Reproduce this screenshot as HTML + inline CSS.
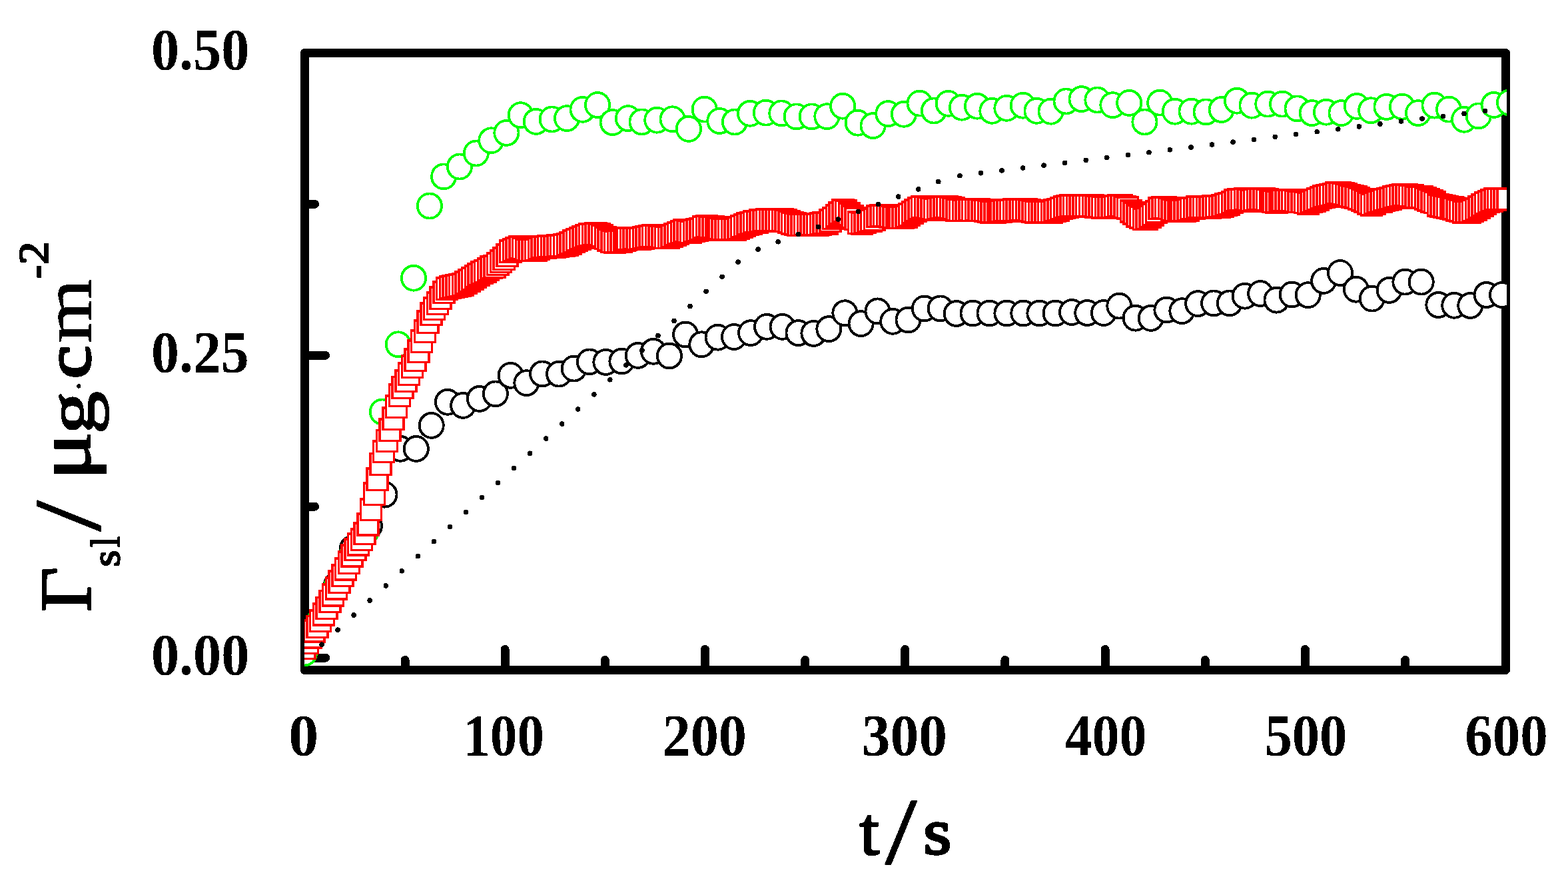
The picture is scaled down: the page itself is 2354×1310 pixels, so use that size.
<!DOCTYPE html>
<html lang="en"><head><meta charset="utf-8"><title>Surface loading vs time</title>
<style>html,body{margin:0;padding:0;background:#fff;overflow:hidden;}svg{display:block;}text{font-family:"Liberation Serif", "DejaVu Serif", serif;fill:#000;}</style></head><body>
<svg width="2354" height="1310" viewBox="0 0 2354 1310" shape-rendering="crispEdges">
<rect x="0" y="0" width="2354" height="1310" fill="#fff"/>
<defs><clipPath id="plot"><rect x="457" y="60" width="1805" height="940.3"/></clipPath><filter id="bw" filterUnits="userSpaceOnUse" x="0" y="0" width="2354" height="1310" color-interpolation-filters="sRGB"><feComponentTransfer><feFuncA type="discrete" tableValues="0 1"/></feComponentTransfer></filter></defs>
<g fill="none" stroke="#000" stroke-width="13" stroke-linecap="round" stroke-linejoin="round">
<rect x="457.5" y="79.5" width="1803.0" height="926.0"/>
<line x1="608.05" y1="1005.5" x2="608.05" y2="990.5"/>
<line x1="758.20" y1="1005.5" x2="758.20" y2="974.5"/>
<line x1="908.35" y1="1005.5" x2="908.35" y2="990.5"/>
<line x1="1058.50" y1="1005.5" x2="1058.50" y2="974.5"/>
<line x1="1208.65" y1="1005.5" x2="1208.65" y2="990.5"/>
<line x1="1358.80" y1="1005.5" x2="1358.80" y2="974.5"/>
<line x1="1508.95" y1="1005.5" x2="1508.95" y2="990.5"/>
<line x1="1659.10" y1="1005.5" x2="1659.10" y2="974.5"/>
<line x1="1809.25" y1="1005.5" x2="1809.25" y2="990.5"/>
<line x1="1959.40" y1="1005.5" x2="1959.40" y2="974.5"/>
<line x1="2109.55" y1="1005.5" x2="2109.55" y2="990.5"/>
<line x1="457.5" y1="987.00" x2="488.5" y2="987.00"/>
<line x1="457.5" y1="760.12" x2="472.5" y2="760.12"/>
<line x1="457.5" y1="533.25" x2="488.5" y2="533.25"/>
<line x1="457.5" y1="306.38" x2="472.5" y2="306.38"/>
</g>
<g clip-path="url(#plot)">
<g fill="#fff" stroke="#000" stroke-width="3.9">
<ellipse cx="457.0" cy="980.0" rx="18.05" ry="18.45"/>
<ellipse cx="481.0" cy="930.0" rx="18.05" ry="18.45"/>
<ellipse cx="505.0" cy="878.0" rx="18.05" ry="18.45"/>
<ellipse cx="529.0" cy="823.0" rx="18.05" ry="18.45"/>
<ellipse cx="554.9" cy="789.0" rx="18.05" ry="18.45"/>
<ellipse cx="577.5" cy="742.2" rx="18.05" ry="18.45"/>
<ellipse cx="600.9" cy="673.3" rx="18.05" ry="18.45"/>
<ellipse cx="624.8" cy="673.4" rx="18.05" ry="18.45"/>
<ellipse cx="647.7" cy="638.4" rx="18.05" ry="18.45"/>
<ellipse cx="671.9" cy="603.3" rx="18.05" ry="18.45"/>
<ellipse cx="695.2" cy="608.4" rx="18.05" ry="18.45"/>
<ellipse cx="719.9" cy="598.4" rx="18.05" ry="18.45"/>
<ellipse cx="743.9" cy="590.9" rx="18.05" ry="18.45"/>
<ellipse cx="766.6" cy="563.3" rx="18.05" ry="18.45"/>
<ellipse cx="790.4" cy="574.7" rx="18.05" ry="18.45"/>
<ellipse cx="814.2" cy="560.9" rx="18.05" ry="18.45"/>
<ellipse cx="839.1" cy="561.1" rx="18.05" ry="18.45"/>
<ellipse cx="861.7" cy="553.1" rx="18.05" ry="18.45"/>
<ellipse cx="884.9" cy="542.9" rx="18.05" ry="18.45"/>
<ellipse cx="909.4" cy="543.4" rx="18.05" ry="18.45"/>
<ellipse cx="933.4" cy="542.0" rx="18.05" ry="18.45"/>
<ellipse cx="957.8" cy="533.4" rx="18.05" ry="18.45"/>
<ellipse cx="980.9" cy="527.3" rx="18.05" ry="18.45"/>
<ellipse cx="1004.9" cy="534.0" rx="18.05" ry="18.45"/>
<ellipse cx="1029.1" cy="502.0" rx="18.05" ry="18.45"/>
<ellipse cx="1053.3" cy="516.8" rx="18.05" ry="18.45"/>
<ellipse cx="1077.6" cy="506.2" rx="18.05" ry="18.45"/>
<ellipse cx="1102.0" cy="505.5" rx="18.05" ry="18.45"/>
<ellipse cx="1127.1" cy="499.6" rx="18.05" ry="18.45"/>
<ellipse cx="1151.1" cy="490.4" rx="18.05" ry="18.45"/>
<ellipse cx="1174.6" cy="490.4" rx="18.05" ry="18.45"/>
<ellipse cx="1198.5" cy="499.6" rx="18.05" ry="18.45"/>
<ellipse cx="1221.4" cy="500.4" rx="18.05" ry="18.45"/>
<ellipse cx="1244.4" cy="493.6" rx="18.05" ry="18.45"/>
<ellipse cx="1268.4" cy="469.8" rx="18.05" ry="18.45"/>
<ellipse cx="1292.6" cy="485.6" rx="18.05" ry="18.45"/>
<ellipse cx="1317.5" cy="466.9" rx="18.05" ry="18.45"/>
<ellipse cx="1340.3" cy="482.3" rx="18.05" ry="18.45"/>
<ellipse cx="1363.5" cy="480.0" rx="18.05" ry="18.45"/>
<ellipse cx="1387.8" cy="463.0" rx="18.05" ry="18.45"/>
<ellipse cx="1411.7" cy="462.9" rx="18.05" ry="18.45"/>
<ellipse cx="1435.7" cy="470.5" rx="18.05" ry="18.45"/>
<ellipse cx="1460.5" cy="470.0" rx="18.05" ry="18.45"/>
<ellipse cx="1485.5" cy="470.0" rx="18.05" ry="18.45"/>
<ellipse cx="1511.4" cy="470.0" rx="18.05" ry="18.45"/>
<ellipse cx="1536.3" cy="470.0" rx="18.05" ry="18.45"/>
<ellipse cx="1560.4" cy="470.0" rx="18.05" ry="18.45"/>
<ellipse cx="1584.6" cy="470.0" rx="18.05" ry="18.45"/>
<ellipse cx="1609.1" cy="468.5" rx="18.05" ry="18.45"/>
<ellipse cx="1632.3" cy="469.5" rx="18.05" ry="18.45"/>
<ellipse cx="1656.9" cy="469.5" rx="18.05" ry="18.45"/>
<ellipse cx="1680.3" cy="459.1" rx="18.05" ry="18.45"/>
<ellipse cx="1704.6" cy="477.2" rx="18.05" ry="18.45"/>
<ellipse cx="1727.7" cy="477.4" rx="18.05" ry="18.45"/>
<ellipse cx="1751.4" cy="465.0" rx="18.05" ry="18.45"/>
<ellipse cx="1774.4" cy="466.7" rx="18.05" ry="18.45"/>
<ellipse cx="1798.2" cy="455.6" rx="18.05" ry="18.45"/>
<ellipse cx="1822.2" cy="454.9" rx="18.05" ry="18.45"/>
<ellipse cx="1845.9" cy="454.9" rx="18.05" ry="18.45"/>
<ellipse cx="1868.7" cy="444.2" rx="18.05" ry="18.45"/>
<ellipse cx="1892.2" cy="440.5" rx="18.05" ry="18.45"/>
<ellipse cx="1916.5" cy="450.2" rx="18.05" ry="18.45"/>
<ellipse cx="1939.7" cy="442.0" rx="18.05" ry="18.45"/>
<ellipse cx="1963.7" cy="442.7" rx="18.05" ry="18.45"/>
<ellipse cx="1987.2" cy="421.4" rx="18.05" ry="18.45"/>
<ellipse cx="2012.0" cy="409.5" rx="18.05" ry="18.45"/>
<ellipse cx="2035.9" cy="434.2" rx="18.05" ry="18.45"/>
<ellipse cx="2059.8" cy="448.1" rx="18.05" ry="18.45"/>
<ellipse cx="2085.6" cy="435.4" rx="18.05" ry="18.45"/>
<ellipse cx="2109.4" cy="423.1" rx="18.05" ry="18.45"/>
<ellipse cx="2133.7" cy="423.1" rx="18.05" ry="18.45"/>
<ellipse cx="2159.4" cy="457.5" rx="18.05" ry="18.45"/>
<ellipse cx="2183.3" cy="458.3" rx="18.05" ry="18.45"/>
<ellipse cx="2207.3" cy="458.5" rx="18.05" ry="18.45"/>
<ellipse cx="2231.6" cy="442.5" rx="18.05" ry="18.45"/>
<ellipse cx="2255.1" cy="442.5" rx="18.05" ry="18.45"/>
</g>
<g fill="#fff" stroke="#0f0" stroke-width="3.8">
<ellipse cx="457.0" cy="980.0" rx="18.1" ry="18.5"/>
<ellipse cx="480.5" cy="931.0" rx="18.1" ry="18.5"/>
<ellipse cx="504.0" cy="883.0" rx="18.1" ry="18.5"/>
<ellipse cx="527.5" cy="835.0" rx="18.1" ry="18.5"/>
<ellipse cx="550.5" cy="796.5" rx="18.1" ry="18.5"/>
<ellipse cx="573.9" cy="618.0" rx="18.1" ry="18.5"/>
<ellipse cx="597.8" cy="516.8" rx="18.1" ry="18.5"/>
<ellipse cx="621.0" cy="417.2" rx="18.1" ry="18.5"/>
<ellipse cx="644.9" cy="309.0" rx="18.1" ry="18.5"/>
<ellipse cx="666.1" cy="264.9" rx="18.1" ry="18.5"/>
<ellipse cx="690.0" cy="250.0" rx="18.1" ry="18.5"/>
<ellipse cx="714.8" cy="230.0" rx="18.1" ry="18.5"/>
<ellipse cx="737.4" cy="210.8" rx="18.1" ry="18.5"/>
<ellipse cx="760.4" cy="199.4" rx="18.1" ry="18.5"/>
<ellipse cx="781.7" cy="172.7" rx="18.1" ry="18.5"/>
<ellipse cx="804.7" cy="182.4" rx="18.1" ry="18.5"/>
<ellipse cx="828.7" cy="179.0" rx="18.1" ry="18.5"/>
<ellipse cx="851.1" cy="177.6" rx="18.1" ry="18.5"/>
<ellipse cx="874.6" cy="164.3" rx="18.1" ry="18.5"/>
<ellipse cx="897.1" cy="157.5" rx="18.1" ry="18.5"/>
<ellipse cx="919.7" cy="183.6" rx="18.1" ry="18.5"/>
<ellipse cx="942.9" cy="177.6" rx="18.1" ry="18.5"/>
<ellipse cx="963.5" cy="182.9" rx="18.1" ry="18.5"/>
<ellipse cx="986.3" cy="180.2" rx="18.1" ry="18.5"/>
<ellipse cx="1009.6" cy="178.8" rx="18.1" ry="18.5"/>
<ellipse cx="1033.9" cy="193.4" rx="18.1" ry="18.5"/>
<ellipse cx="1057.7" cy="164.1" rx="18.1" ry="18.5"/>
<ellipse cx="1080.3" cy="181.5" rx="18.1" ry="18.5"/>
<ellipse cx="1103.0" cy="183.0" rx="18.1" ry="18.5"/>
<ellipse cx="1126.0" cy="170.3" rx="18.1" ry="18.5"/>
<ellipse cx="1149.8" cy="169.1" rx="18.1" ry="18.5"/>
<ellipse cx="1173.3" cy="169.9" rx="18.1" ry="18.5"/>
<ellipse cx="1195.7" cy="174.9" rx="18.1" ry="18.5"/>
<ellipse cx="1218.7" cy="174.9" rx="18.1" ry="18.5"/>
<ellipse cx="1241.4" cy="174.7" rx="18.1" ry="18.5"/>
<ellipse cx="1265.2" cy="159.2" rx="18.1" ry="18.5"/>
<ellipse cx="1287.7" cy="184.2" rx="18.1" ry="18.5"/>
<ellipse cx="1310.6" cy="188.6" rx="18.1" ry="18.5"/>
<ellipse cx="1333.3" cy="170.6" rx="18.1" ry="18.5"/>
<ellipse cx="1356.9" cy="171.3" rx="18.1" ry="18.5"/>
<ellipse cx="1380.6" cy="155.1" rx="18.1" ry="18.5"/>
<ellipse cx="1402.0" cy="166.0" rx="18.1" ry="18.5"/>
<ellipse cx="1423.7" cy="155.3" rx="18.1" ry="18.5"/>
<ellipse cx="1444.0" cy="161.2" rx="18.1" ry="18.5"/>
<ellipse cx="1467.0" cy="159.2" rx="18.1" ry="18.5"/>
<ellipse cx="1489.4" cy="166.3" rx="18.1" ry="18.5"/>
<ellipse cx="1511.4" cy="162.3" rx="18.1" ry="18.5"/>
<ellipse cx="1535.7" cy="158.2" rx="18.1" ry="18.5"/>
<ellipse cx="1556.5" cy="166.3" rx="18.1" ry="18.5"/>
<ellipse cx="1577.6" cy="167.2" rx="18.1" ry="18.5"/>
<ellipse cx="1600.6" cy="152.0" rx="18.1" ry="18.5"/>
<ellipse cx="1623.6" cy="148.6" rx="18.1" ry="18.5"/>
<ellipse cx="1647.4" cy="150.0" rx="18.1" ry="18.5"/>
<ellipse cx="1670.4" cy="157.7" rx="18.1" ry="18.5"/>
<ellipse cx="1695.2" cy="154.4" rx="18.1" ry="18.5"/>
<ellipse cx="1718.4" cy="183.0" rx="18.1" ry="18.5"/>
<ellipse cx="1741.2" cy="154.1" rx="18.1" ry="18.5"/>
<ellipse cx="1763.8" cy="167.2" rx="18.1" ry="18.5"/>
<ellipse cx="1788.6" cy="167.2" rx="18.1" ry="18.5"/>
<ellipse cx="1810.6" cy="167.9" rx="18.1" ry="18.5"/>
<ellipse cx="1833.7" cy="164.5" rx="18.1" ry="18.5"/>
<ellipse cx="1857.0" cy="151.2" rx="18.1" ry="18.5"/>
<ellipse cx="1879.5" cy="158.2" rx="18.1" ry="18.5"/>
<ellipse cx="1903.3" cy="156.1" rx="18.1" ry="18.5"/>
<ellipse cx="1925.1" cy="156.1" rx="18.1" ry="18.5"/>
<ellipse cx="1947.6" cy="162.9" rx="18.1" ry="18.5"/>
<ellipse cx="1969.7" cy="169.6" rx="18.1" ry="18.5"/>
<ellipse cx="1991.0" cy="168.2" rx="18.1" ry="18.5"/>
<ellipse cx="2013.6" cy="169.6" rx="18.1" ry="18.5"/>
<ellipse cx="2036.9" cy="159.4" rx="18.1" ry="18.5"/>
<ellipse cx="2058.2" cy="165.7" rx="18.1" ry="18.5"/>
<ellipse cx="2081.5" cy="160.4" rx="18.1" ry="18.5"/>
<ellipse cx="2105.0" cy="160.1" rx="18.1" ry="18.5"/>
<ellipse cx="2129.0" cy="169.6" rx="18.1" ry="18.5"/>
<ellipse cx="2153.5" cy="158.1" rx="18.1" ry="18.5"/>
<ellipse cx="2175.1" cy="164.1" rx="18.1" ry="18.5"/>
<ellipse cx="2198.1" cy="179.3" rx="18.1" ry="18.5"/>
<ellipse cx="2219.7" cy="173.9" rx="18.1" ry="18.5"/>
<ellipse cx="2242.7" cy="157.4" rx="18.1" ry="18.5"/>
<ellipse cx="2266.0" cy="153.9" rx="18.1" ry="18.5"/>
</g>
<g>
<rect x="440.00" y="954.45" width="34.6" height="35.7" fill="#f00"/><rect x="443.50" y="958.35" width="27.6" height="28.5" fill="#fff"/>
<rect x="444.75" y="946.75" width="34.6" height="35.7" fill="#f00"/><rect x="448.25" y="950.65" width="27.6" height="28.5" fill="#fff"/>
<rect x="449.51" y="937.85" width="34.6" height="35.7" fill="#f00"/><rect x="453.01" y="941.75" width="27.6" height="28.5" fill="#fff"/>
<rect x="454.26" y="928.95" width="34.6" height="35.7" fill="#f00"/><rect x="457.76" y="932.85" width="27.6" height="28.5" fill="#fff"/>
<rect x="459.01" y="922.55" width="34.6" height="35.7" fill="#f00"/><rect x="462.51" y="926.45" width="27.6" height="28.5" fill="#fff"/>
<rect x="463.76" y="913.65" width="34.6" height="35.7" fill="#f00"/><rect x="467.26" y="917.55" width="27.6" height="28.5" fill="#fff"/>
<rect x="468.52" y="903.95" width="34.6" height="35.7" fill="#f00"/><rect x="472.02" y="907.85" width="27.6" height="28.5" fill="#fff"/>
<rect x="473.27" y="894.55" width="34.6" height="35.7" fill="#f00"/><rect x="476.77" y="898.45" width="27.6" height="28.5" fill="#fff"/>
<rect x="478.02" y="884.55" width="34.6" height="35.7" fill="#f00"/><rect x="481.52" y="888.45" width="27.6" height="28.5" fill="#fff"/>
<rect x="482.78" y="874.85" width="34.6" height="35.7" fill="#f00"/><rect x="486.28" y="878.75" width="27.6" height="28.5" fill="#fff"/>
<rect x="487.53" y="865.05" width="34.6" height="35.7" fill="#f00"/><rect x="491.03" y="868.95" width="27.6" height="28.5" fill="#fff"/>
<rect x="492.28" y="855.45" width="34.6" height="35.7" fill="#f00"/><rect x="495.78" y="859.35" width="27.6" height="28.5" fill="#fff"/>
<rect x="497.04" y="845.65" width="34.6" height="35.7" fill="#f00"/><rect x="500.54" y="849.55" width="27.6" height="28.5" fill="#fff"/>
<rect x="501.79" y="835.95" width="34.6" height="35.7" fill="#f00"/><rect x="505.29" y="839.85" width="27.6" height="28.5" fill="#fff"/>
<rect x="506.54" y="826.15" width="34.6" height="35.7" fill="#f00"/><rect x="510.04" y="830.05" width="27.6" height="28.5" fill="#fff"/>
<rect x="511.30" y="815.95" width="34.6" height="35.7" fill="#f00"/><rect x="514.80" y="819.85" width="27.6" height="28.5" fill="#fff"/>
<rect x="516.05" y="806.75" width="34.6" height="35.7" fill="#f00"/><rect x="519.55" y="810.65" width="27.6" height="28.5" fill="#fff"/>
<rect x="520.80" y="798.95" width="34.6" height="35.7" fill="#f00"/><rect x="524.30" y="802.85" width="27.6" height="28.5" fill="#fff"/>
<rect x="525.55" y="791.65" width="34.6" height="35.7" fill="#f00"/><rect x="529.05" y="795.55" width="27.6" height="28.5" fill="#fff"/>
<rect x="530.31" y="782.75" width="34.6" height="35.7" fill="#f00"/><rect x="533.81" y="786.65" width="27.6" height="28.5" fill="#fff"/>
<rect x="535.06" y="768.85" width="34.6" height="35.7" fill="#f00"/><rect x="538.56" y="772.75" width="27.6" height="28.5" fill="#fff"/>
<rect x="539.81" y="746.75" width="34.6" height="35.7" fill="#f00"/><rect x="543.31" y="750.65" width="27.6" height="28.5" fill="#fff"/>
<rect x="544.57" y="723.15" width="34.6" height="35.7" fill="#f00"/><rect x="548.07" y="727.05" width="27.6" height="28.5" fill="#fff"/>
<rect x="549.32" y="701.15" width="34.6" height="35.7" fill="#f00"/><rect x="552.82" y="705.05" width="27.6" height="28.5" fill="#fff"/>
<rect x="554.07" y="678.55" width="34.6" height="35.7" fill="#f00"/><rect x="557.57" y="682.45" width="27.6" height="28.5" fill="#fff"/>
<rect x="558.83" y="659.65" width="34.6" height="35.7" fill="#f00"/><rect x="562.33" y="663.55" width="27.6" height="28.5" fill="#fff"/>
<rect x="563.58" y="643.55" width="34.6" height="35.7" fill="#f00"/><rect x="567.08" y="647.45" width="27.6" height="28.5" fill="#fff"/>
<rect x="568.33" y="627.35" width="34.6" height="35.7" fill="#f00"/><rect x="571.83" y="631.25" width="27.6" height="28.5" fill="#fff"/>
<rect x="573.08" y="610.15" width="34.6" height="35.7" fill="#f00"/><rect x="576.58" y="614.05" width="27.6" height="28.5" fill="#fff"/>
<rect x="577.84" y="592.45" width="34.6" height="35.7" fill="#f00"/><rect x="581.34" y="596.35" width="27.6" height="28.5" fill="#fff"/>
<rect x="582.59" y="575.45" width="34.6" height="35.7" fill="#f00"/><rect x="586.09" y="579.35" width="27.6" height="28.5" fill="#fff"/>
<rect x="587.34" y="563.55" width="34.6" height="35.7" fill="#f00"/><rect x="590.84" y="567.45" width="27.6" height="28.5" fill="#fff"/>
<rect x="592.10" y="553.65" width="34.6" height="35.7" fill="#f00"/><rect x="595.60" y="557.55" width="27.6" height="28.5" fill="#fff"/>
<rect x="596.85" y="543.45" width="34.6" height="35.7" fill="#f00"/><rect x="600.35" y="547.35" width="27.6" height="28.5" fill="#fff"/>
<rect x="601.60" y="532.35" width="34.6" height="35.7" fill="#f00"/><rect x="605.10" y="536.25" width="27.6" height="28.5" fill="#fff"/>
<rect x="606.36" y="522.45" width="34.6" height="35.7" fill="#f00"/><rect x="609.86" y="526.35" width="27.6" height="28.5" fill="#fff"/>
<rect x="611.11" y="509.15" width="34.6" height="35.7" fill="#f00"/><rect x="614.61" y="513.05" width="27.6" height="28.5" fill="#fff"/>
<rect x="615.86" y="494.25" width="34.6" height="35.7" fill="#f00"/><rect x="619.36" y="498.15" width="27.6" height="28.5" fill="#fff"/>
<rect x="620.61" y="479.45" width="34.6" height="35.7" fill="#f00"/><rect x="624.11" y="483.35" width="27.6" height="28.5" fill="#fff"/>
<rect x="625.37" y="465.45" width="34.6" height="35.7" fill="#f00"/><rect x="628.87" y="469.35" width="27.6" height="28.5" fill="#fff"/>
<rect x="630.12" y="453.35" width="34.6" height="35.7" fill="#f00"/><rect x="633.62" y="457.25" width="27.6" height="28.5" fill="#fff"/>
<rect x="634.87" y="445.35" width="34.6" height="35.7" fill="#f00"/><rect x="638.37" y="449.25" width="27.6" height="28.5" fill="#fff"/>
<rect x="639.63" y="437.25" width="34.6" height="35.7" fill="#f00"/><rect x="643.13" y="441.15" width="27.6" height="28.5" fill="#fff"/>
<rect x="644.38" y="429.35" width="34.6" height="35.7" fill="#f00"/><rect x="647.88" y="433.25" width="27.6" height="28.5" fill="#fff"/>
<rect x="649.13" y="420.65" width="34.6" height="35.7" fill="#f00"/><rect x="652.63" y="424.55" width="27.6" height="28.5" fill="#fff"/>
<rect x="653.88" y="415.25" width="34.6" height="35.7" fill="#f00"/><rect x="657.38" y="419.15" width="27.6" height="28.5" fill="#fff"/>
<rect x="658.64" y="413.45" width="34.6" height="35.7" fill="#f00"/><rect x="662.14" y="417.35" width="27.6" height="28.5" fill="#fff"/>
<rect x="663.39" y="412.25" width="34.6" height="35.7" fill="#f00"/><rect x="666.89" y="416.15" width="27.6" height="28.5" fill="#fff"/>
<rect x="668.14" y="411.25" width="34.6" height="35.7" fill="#f00"/><rect x="671.64" y="415.15" width="27.6" height="28.5" fill="#fff"/>
<rect x="672.90" y="410.15" width="34.6" height="35.7" fill="#f00"/><rect x="676.40" y="414.05" width="27.6" height="28.5" fill="#fff"/>
<rect x="677.65" y="409.35" width="34.6" height="35.7" fill="#f00"/><rect x="681.15" y="413.25" width="27.6" height="28.5" fill="#fff"/>
<rect x="682.40" y="406.45" width="34.6" height="35.7" fill="#f00"/><rect x="685.90" y="410.35" width="27.6" height="28.5" fill="#fff"/>
<rect x="687.16" y="403.45" width="34.6" height="35.7" fill="#f00"/><rect x="690.66" y="407.35" width="27.6" height="28.5" fill="#fff"/>
<rect x="691.91" y="400.15" width="34.6" height="35.7" fill="#f00"/><rect x="695.41" y="404.05" width="27.6" height="28.5" fill="#fff"/>
<rect x="696.66" y="397.05" width="34.6" height="35.7" fill="#f00"/><rect x="700.16" y="400.95" width="27.6" height="28.5" fill="#fff"/>
<rect x="701.42" y="394.05" width="34.6" height="35.7" fill="#f00"/><rect x="704.92" y="397.95" width="27.6" height="28.5" fill="#fff"/>
<rect x="706.17" y="391.15" width="34.6" height="35.7" fill="#f00"/><rect x="709.67" y="395.05" width="27.6" height="28.5" fill="#fff"/>
<rect x="710.92" y="389.15" width="34.6" height="35.7" fill="#f00"/><rect x="714.42" y="393.05" width="27.6" height="28.5" fill="#fff"/>
<rect x="715.67" y="386.45" width="34.6" height="35.7" fill="#f00"/><rect x="719.17" y="390.35" width="27.6" height="28.5" fill="#fff"/>
<rect x="720.43" y="383.25" width="34.6" height="35.7" fill="#f00"/><rect x="723.93" y="387.15" width="27.6" height="28.5" fill="#fff"/>
<rect x="725.18" y="382.25" width="34.6" height="35.7" fill="#f00"/><rect x="728.68" y="386.15" width="27.6" height="28.5" fill="#fff"/>
<rect x="729.93" y="378.15" width="34.6" height="35.7" fill="#f00"/><rect x="733.43" y="382.05" width="27.6" height="28.5" fill="#fff"/>
<rect x="734.69" y="374.35" width="34.6" height="35.7" fill="#f00"/><rect x="738.19" y="378.25" width="27.6" height="28.5" fill="#fff"/>
<rect x="739.44" y="370.25" width="34.6" height="35.7" fill="#f00"/><rect x="742.94" y="374.15" width="27.6" height="28.5" fill="#fff"/>
<rect x="744.19" y="365.45" width="34.6" height="35.7" fill="#f00"/><rect x="747.69" y="369.35" width="27.6" height="28.5" fill="#fff"/>
<rect x="748.95" y="359.25" width="34.6" height="35.7" fill="#f00"/><rect x="752.45" y="363.15" width="27.6" height="28.5" fill="#fff"/>
<rect x="753.70" y="357.15" width="34.6" height="35.7" fill="#f00"/><rect x="757.20" y="361.05" width="27.6" height="28.5" fill="#fff"/>
<rect x="758.45" y="355.25" width="34.6" height="35.7" fill="#f00"/><rect x="761.95" y="359.15" width="27.6" height="28.5" fill="#fff"/>
<rect x="763.20" y="353.25" width="34.6" height="35.7" fill="#f00"/><rect x="766.70" y="357.15" width="27.6" height="28.5" fill="#fff"/>
<rect x="767.96" y="354.85" width="34.6" height="35.7" fill="#f00"/><rect x="771.46" y="358.75" width="27.6" height="28.5" fill="#fff"/>
<rect x="772.71" y="356.85" width="34.6" height="35.7" fill="#f00"/><rect x="776.21" y="360.75" width="27.6" height="28.5" fill="#fff"/>
<rect x="777.46" y="357.15" width="34.6" height="35.7" fill="#f00"/><rect x="780.96" y="361.05" width="27.6" height="28.5" fill="#fff"/>
<rect x="782.22" y="357.15" width="34.6" height="35.7" fill="#f00"/><rect x="785.72" y="361.05" width="27.6" height="28.5" fill="#fff"/>
<rect x="786.97" y="356.85" width="34.6" height="35.7" fill="#f00"/><rect x="790.47" y="360.75" width="27.6" height="28.5" fill="#fff"/>
<rect x="791.72" y="354.85" width="34.6" height="35.7" fill="#f00"/><rect x="795.22" y="358.75" width="27.6" height="28.5" fill="#fff"/>
<rect x="796.48" y="353.05" width="34.6" height="35.7" fill="#f00"/><rect x="799.98" y="356.95" width="27.6" height="28.5" fill="#fff"/>
<rect x="801.23" y="353.05" width="34.6" height="35.7" fill="#f00"/><rect x="804.73" y="356.95" width="27.6" height="28.5" fill="#fff"/>
<rect x="805.98" y="352.05" width="34.6" height="35.7" fill="#f00"/><rect x="809.48" y="355.95" width="27.6" height="28.5" fill="#fff"/>
<rect x="810.73" y="352.05" width="34.6" height="35.7" fill="#f00"/><rect x="814.23" y="355.95" width="27.6" height="28.5" fill="#fff"/>
<rect x="815.49" y="352.05" width="34.6" height="35.7" fill="#f00"/><rect x="818.99" y="355.95" width="27.6" height="28.5" fill="#fff"/>
<rect x="820.24" y="351.05" width="34.6" height="35.7" fill="#f00"/><rect x="823.74" y="354.95" width="27.6" height="28.5" fill="#fff"/>
<rect x="824.99" y="350.75" width="34.6" height="35.7" fill="#f00"/><rect x="828.49" y="354.65" width="27.6" height="28.5" fill="#fff"/>
<rect x="829.75" y="350.15" width="34.6" height="35.7" fill="#f00"/><rect x="833.25" y="354.05" width="27.6" height="28.5" fill="#fff"/>
<rect x="834.50" y="348.85" width="34.6" height="35.7" fill="#f00"/><rect x="838.00" y="352.75" width="27.6" height="28.5" fill="#fff"/>
<rect x="839.25" y="346.95" width="34.6" height="35.7" fill="#f00"/><rect x="842.75" y="350.85" width="27.6" height="28.5" fill="#fff"/>
<rect x="844.01" y="344.15" width="34.6" height="35.7" fill="#f00"/><rect x="847.51" y="348.05" width="27.6" height="28.5" fill="#fff"/>
<rect x="848.76" y="341.85" width="34.6" height="35.7" fill="#f00"/><rect x="852.26" y="345.75" width="27.6" height="28.5" fill="#fff"/>
<rect x="853.51" y="339.95" width="34.6" height="35.7" fill="#f00"/><rect x="857.01" y="343.85" width="27.6" height="28.5" fill="#fff"/>
<rect x="858.26" y="337.95" width="34.6" height="35.7" fill="#f00"/><rect x="861.76" y="341.85" width="27.6" height="28.5" fill="#fff"/>
<rect x="863.02" y="336.05" width="34.6" height="35.7" fill="#f00"/><rect x="866.52" y="339.95" width="27.6" height="28.5" fill="#fff"/>
<rect x="867.77" y="334.15" width="34.6" height="35.7" fill="#f00"/><rect x="871.27" y="338.05" width="27.6" height="28.5" fill="#fff"/>
<rect x="872.52" y="333.75" width="34.6" height="35.7" fill="#f00"/><rect x="876.02" y="337.65" width="27.6" height="28.5" fill="#fff"/>
<rect x="877.28" y="333.15" width="34.6" height="35.7" fill="#f00"/><rect x="880.78" y="337.05" width="27.6" height="28.5" fill="#fff"/>
<rect x="882.03" y="333.75" width="34.6" height="35.7" fill="#f00"/><rect x="885.53" y="337.65" width="27.6" height="28.5" fill="#fff"/>
<rect x="886.78" y="336.05" width="34.6" height="35.7" fill="#f00"/><rect x="890.28" y="339.95" width="27.6" height="28.5" fill="#fff"/>
<rect x="891.54" y="339.25" width="34.6" height="35.7" fill="#f00"/><rect x="895.04" y="343.15" width="27.6" height="28.5" fill="#fff"/>
<rect x="896.29" y="342.05" width="34.6" height="35.7" fill="#f00"/><rect x="899.79" y="345.95" width="27.6" height="28.5" fill="#fff"/>
<rect x="901.04" y="344.15" width="34.6" height="35.7" fill="#f00"/><rect x="904.54" y="348.05" width="27.6" height="28.5" fill="#fff"/>
<rect x="905.79" y="345.05" width="34.6" height="35.7" fill="#f00"/><rect x="909.29" y="348.95" width="27.6" height="28.5" fill="#fff"/>
<rect x="910.55" y="344.15" width="34.6" height="35.7" fill="#f00"/><rect x="914.05" y="348.05" width="27.6" height="28.5" fill="#fff"/>
<rect x="915.30" y="344.15" width="34.6" height="35.7" fill="#f00"/><rect x="918.80" y="348.05" width="27.6" height="28.5" fill="#fff"/>
<rect x="920.05" y="342.15" width="34.6" height="35.7" fill="#f00"/><rect x="923.55" y="346.05" width="27.6" height="28.5" fill="#fff"/>
<rect x="922.43" y="341.15" width="34.6" height="35.7" fill="#f00"/><rect x="925.93" y="345.05" width="27.6" height="28.5" fill="#fff"/>
<rect x="924.81" y="340.15" width="34.6" height="35.7" fill="#f00"/><rect x="928.31" y="344.05" width="27.6" height="28.5" fill="#fff"/>
<rect x="929.56" y="340.15" width="34.6" height="35.7" fill="#f00"/><rect x="933.06" y="344.05" width="27.6" height="28.5" fill="#fff"/>
<rect x="934.31" y="339.95" width="34.6" height="35.7" fill="#f00"/><rect x="937.81" y="343.85" width="27.6" height="28.5" fill="#fff"/>
<rect x="939.07" y="340.15" width="34.6" height="35.7" fill="#f00"/><rect x="942.57" y="344.05" width="27.6" height="28.5" fill="#fff"/>
<rect x="943.82" y="339.95" width="34.6" height="35.7" fill="#f00"/><rect x="947.32" y="343.85" width="27.6" height="28.5" fill="#fff"/>
<rect x="948.57" y="339.05" width="34.6" height="35.7" fill="#f00"/><rect x="952.07" y="342.95" width="27.6" height="28.5" fill="#fff"/>
<rect x="953.32" y="337.95" width="34.6" height="35.7" fill="#f00"/><rect x="956.82" y="341.85" width="27.6" height="28.5" fill="#fff"/>
<rect x="958.08" y="337.05" width="34.6" height="35.7" fill="#f00"/><rect x="961.58" y="340.95" width="27.6" height="28.5" fill="#fff"/>
<rect x="962.83" y="336.15" width="34.6" height="35.7" fill="#f00"/><rect x="966.33" y="340.05" width="27.6" height="28.5" fill="#fff"/>
<rect x="967.58" y="336.15" width="34.6" height="35.7" fill="#f00"/><rect x="971.08" y="340.05" width="27.6" height="28.5" fill="#fff"/>
<rect x="972.34" y="336.95" width="34.6" height="35.7" fill="#f00"/><rect x="975.84" y="340.85" width="27.6" height="28.5" fill="#fff"/>
<rect x="977.09" y="337.15" width="34.6" height="35.7" fill="#f00"/><rect x="980.59" y="341.05" width="27.6" height="28.5" fill="#fff"/>
<rect x="981.84" y="338.15" width="34.6" height="35.7" fill="#f00"/><rect x="985.34" y="342.05" width="27.6" height="28.5" fill="#fff"/>
<rect x="986.60" y="338.15" width="34.6" height="35.7" fill="#f00"/><rect x="990.10" y="342.05" width="27.6" height="28.5" fill="#fff"/>
<rect x="991.35" y="336.15" width="34.6" height="35.7" fill="#f00"/><rect x="994.85" y="340.05" width="27.6" height="28.5" fill="#fff"/>
<rect x="996.10" y="333.95" width="34.6" height="35.7" fill="#f00"/><rect x="999.60" y="337.85" width="27.6" height="28.5" fill="#fff"/>
<rect x="1000.85" y="332.05" width="34.6" height="35.7" fill="#f00"/><rect x="1004.35" y="335.95" width="27.6" height="28.5" fill="#fff"/>
<rect x="1005.61" y="330.15" width="34.6" height="35.7" fill="#f00"/><rect x="1009.11" y="334.05" width="27.6" height="28.5" fill="#fff"/>
<rect x="1010.36" y="328.15" width="34.6" height="35.7" fill="#f00"/><rect x="1013.86" y="332.05" width="27.6" height="28.5" fill="#fff"/>
<rect x="1015.11" y="329.25" width="34.6" height="35.7" fill="#f00"/><rect x="1018.61" y="333.15" width="27.6" height="28.5" fill="#fff"/>
<rect x="1019.87" y="330.15" width="34.6" height="35.7" fill="#f00"/><rect x="1023.37" y="334.05" width="27.6" height="28.5" fill="#fff"/>
<rect x="1024.62" y="328.15" width="34.6" height="35.7" fill="#f00"/><rect x="1028.12" y="332.05" width="27.6" height="28.5" fill="#fff"/>
<rect x="1029.37" y="327.15" width="34.6" height="35.7" fill="#f00"/><rect x="1032.87" y="331.05" width="27.6" height="28.5" fill="#fff"/>
<rect x="1034.12" y="326.05" width="34.6" height="35.7" fill="#f00"/><rect x="1037.62" y="329.95" width="27.6" height="28.5" fill="#fff"/>
<rect x="1038.88" y="323.05" width="34.6" height="35.7" fill="#f00"/><rect x="1042.38" y="326.95" width="27.6" height="28.5" fill="#fff"/>
<rect x="1043.63" y="322.05" width="34.6" height="35.7" fill="#f00"/><rect x="1047.13" y="325.95" width="27.6" height="28.5" fill="#fff"/>
<rect x="1048.38" y="323.05" width="34.6" height="35.7" fill="#f00"/><rect x="1051.88" y="326.95" width="27.6" height="28.5" fill="#fff"/>
<rect x="1053.14" y="323.05" width="34.6" height="35.7" fill="#f00"/><rect x="1056.64" y="326.95" width="27.6" height="28.5" fill="#fff"/>
<rect x="1057.89" y="323.95" width="34.6" height="35.7" fill="#f00"/><rect x="1061.39" y="327.85" width="27.6" height="28.5" fill="#fff"/>
<rect x="1060.27" y="324.50" width="34.6" height="35.7" fill="#f00"/><rect x="1063.77" y="328.40" width="27.6" height="28.5" fill="#fff"/>
<rect x="1062.64" y="325.05" width="34.6" height="35.7" fill="#f00"/><rect x="1066.14" y="328.95" width="27.6" height="28.5" fill="#fff"/>
<rect x="1067.40" y="326.05" width="34.6" height="35.7" fill="#f00"/><rect x="1070.90" y="329.95" width="27.6" height="28.5" fill="#fff"/>
<rect x="1072.15" y="326.05" width="34.6" height="35.7" fill="#f00"/><rect x="1075.65" y="329.95" width="27.6" height="28.5" fill="#fff"/>
<rect x="1076.90" y="326.05" width="34.6" height="35.7" fill="#f00"/><rect x="1080.40" y="329.95" width="27.6" height="28.5" fill="#fff"/>
<rect x="1081.65" y="326.05" width="34.6" height="35.7" fill="#f00"/><rect x="1085.15" y="329.95" width="27.6" height="28.5" fill="#fff"/>
<rect x="1086.41" y="326.05" width="34.6" height="35.7" fill="#f00"/><rect x="1089.91" y="329.95" width="27.6" height="28.5" fill="#fff"/>
<rect x="1091.16" y="324.15" width="34.6" height="35.7" fill="#f00"/><rect x="1094.66" y="328.05" width="27.6" height="28.5" fill="#fff"/>
<rect x="1095.91" y="322.05" width="34.6" height="35.7" fill="#f00"/><rect x="1099.41" y="325.95" width="27.6" height="28.5" fill="#fff"/>
<rect x="1100.67" y="320.15" width="34.6" height="35.7" fill="#f00"/><rect x="1104.17" y="324.05" width="27.6" height="28.5" fill="#fff"/>
<rect x="1105.42" y="317.95" width="34.6" height="35.7" fill="#f00"/><rect x="1108.92" y="321.85" width="27.6" height="28.5" fill="#fff"/>
<rect x="1110.17" y="316.95" width="34.6" height="35.7" fill="#f00"/><rect x="1113.67" y="320.85" width="27.6" height="28.5" fill="#fff"/>
<rect x="1114.93" y="315.05" width="34.6" height="35.7" fill="#f00"/><rect x="1118.43" y="318.95" width="27.6" height="28.5" fill="#fff"/>
<rect x="1119.68" y="314.85" width="34.6" height="35.7" fill="#f00"/><rect x="1123.18" y="318.75" width="27.6" height="28.5" fill="#fff"/>
<rect x="1124.43" y="313.15" width="34.6" height="35.7" fill="#f00"/><rect x="1127.93" y="317.05" width="27.6" height="28.5" fill="#fff"/>
<rect x="1129.19" y="312.85" width="34.6" height="35.7" fill="#f00"/><rect x="1132.69" y="316.75" width="27.6" height="28.5" fill="#fff"/>
<rect x="1133.94" y="312.25" width="34.6" height="35.7" fill="#f00"/><rect x="1137.44" y="316.15" width="27.6" height="28.5" fill="#fff"/>
<rect x="1138.69" y="312.25" width="34.6" height="35.7" fill="#f00"/><rect x="1142.19" y="316.15" width="27.6" height="28.5" fill="#fff"/>
<rect x="1143.44" y="312.25" width="34.6" height="35.7" fill="#f00"/><rect x="1146.94" y="316.15" width="27.6" height="28.5" fill="#fff"/>
<rect x="1148.20" y="312.25" width="34.6" height="35.7" fill="#f00"/><rect x="1151.70" y="316.15" width="27.6" height="28.5" fill="#fff"/>
<rect x="1152.95" y="312.25" width="34.6" height="35.7" fill="#f00"/><rect x="1156.45" y="316.15" width="27.6" height="28.5" fill="#fff"/>
<rect x="1157.70" y="312.25" width="34.6" height="35.7" fill="#f00"/><rect x="1161.20" y="316.15" width="27.6" height="28.5" fill="#fff"/>
<rect x="1162.46" y="313.15" width="34.6" height="35.7" fill="#f00"/><rect x="1165.96" y="317.05" width="27.6" height="28.5" fill="#fff"/>
<rect x="1167.21" y="315.05" width="34.6" height="35.7" fill="#f00"/><rect x="1170.71" y="318.95" width="27.6" height="28.5" fill="#fff"/>
<rect x="1171.96" y="316.95" width="34.6" height="35.7" fill="#f00"/><rect x="1175.46" y="320.85" width="27.6" height="28.5" fill="#fff"/>
<rect x="1176.72" y="317.95" width="34.6" height="35.7" fill="#f00"/><rect x="1180.22" y="321.85" width="27.6" height="28.5" fill="#fff"/>
<rect x="1181.47" y="319.25" width="34.6" height="35.7" fill="#f00"/><rect x="1184.97" y="323.15" width="27.6" height="28.5" fill="#fff"/>
<rect x="1186.22" y="319.25" width="34.6" height="35.7" fill="#f00"/><rect x="1189.72" y="323.15" width="27.6" height="28.5" fill="#fff"/>
<rect x="1190.97" y="319.25" width="34.6" height="35.7" fill="#f00"/><rect x="1194.47" y="323.15" width="27.6" height="28.5" fill="#fff"/>
<rect x="1195.73" y="319.25" width="34.6" height="35.7" fill="#f00"/><rect x="1199.23" y="323.15" width="27.6" height="28.5" fill="#fff"/>
<rect x="1200.48" y="319.05" width="34.6" height="35.7" fill="#f00"/><rect x="1203.98" y="322.95" width="27.6" height="28.5" fill="#fff"/>
<rect x="1205.23" y="319.05" width="34.6" height="35.7" fill="#f00"/><rect x="1208.73" y="322.95" width="27.6" height="28.5" fill="#fff"/>
<rect x="1209.99" y="319.05" width="34.6" height="35.7" fill="#f00"/><rect x="1213.49" y="322.95" width="27.6" height="28.5" fill="#fff"/>
<rect x="1214.74" y="317.95" width="34.6" height="35.7" fill="#f00"/><rect x="1218.24" y="321.85" width="27.6" height="28.5" fill="#fff"/>
<rect x="1219.49" y="316.95" width="34.6" height="35.7" fill="#f00"/><rect x="1222.99" y="320.85" width="27.6" height="28.5" fill="#fff"/>
<rect x="1224.25" y="316.95" width="34.6" height="35.7" fill="#f00"/><rect x="1227.75" y="320.85" width="27.6" height="28.5" fill="#fff"/>
<rect x="1229.00" y="313.15" width="34.6" height="35.7" fill="#f00"/><rect x="1232.50" y="317.05" width="27.6" height="28.5" fill="#fff"/>
<rect x="1233.75" y="309.75" width="34.6" height="35.7" fill="#f00"/><rect x="1237.25" y="313.65" width="27.6" height="28.5" fill="#fff"/>
<rect x="1238.50" y="305.85" width="34.6" height="35.7" fill="#f00"/><rect x="1242.00" y="309.75" width="27.6" height="28.5" fill="#fff"/>
<rect x="1243.26" y="301.85" width="34.6" height="35.7" fill="#f00"/><rect x="1246.76" y="305.75" width="27.6" height="28.5" fill="#fff"/>
<rect x="1248.01" y="298.15" width="34.6" height="35.7" fill="#f00"/><rect x="1251.51" y="302.05" width="27.6" height="28.5" fill="#fff"/>
<rect x="1252.76" y="299.05" width="34.6" height="35.7" fill="#f00"/><rect x="1256.26" y="302.95" width="27.6" height="28.5" fill="#fff"/>
<rect x="1257.52" y="303.25" width="34.6" height="35.7" fill="#f00"/><rect x="1261.02" y="307.15" width="27.6" height="28.5" fill="#fff"/>
<rect x="1262.27" y="307.35" width="34.6" height="35.7" fill="#f00"/><rect x="1265.77" y="311.25" width="27.6" height="28.5" fill="#fff"/>
<rect x="1267.02" y="310.15" width="34.6" height="35.7" fill="#f00"/><rect x="1270.52" y="314.05" width="27.6" height="28.5" fill="#fff"/>
<rect x="1271.78" y="316.25" width="34.6" height="35.7" fill="#f00"/><rect x="1275.28" y="320.15" width="27.6" height="28.5" fill="#fff"/>
<rect x="1276.53" y="316.85" width="34.6" height="35.7" fill="#f00"/><rect x="1280.03" y="320.75" width="27.6" height="28.5" fill="#fff"/>
<rect x="1281.28" y="315.65" width="34.6" height="35.7" fill="#f00"/><rect x="1284.78" y="319.55" width="27.6" height="28.5" fill="#fff"/>
<rect x="1286.03" y="313.65" width="34.6" height="35.7" fill="#f00"/><rect x="1289.53" y="317.55" width="27.6" height="28.5" fill="#fff"/>
<rect x="1290.79" y="313.05" width="34.6" height="35.7" fill="#f00"/><rect x="1294.29" y="316.95" width="27.6" height="28.5" fill="#fff"/>
<rect x="1295.54" y="311.15" width="34.6" height="35.7" fill="#f00"/><rect x="1299.04" y="315.05" width="27.6" height="28.5" fill="#fff"/>
<rect x="1300.29" y="306.65" width="34.6" height="35.7" fill="#f00"/><rect x="1303.79" y="310.55" width="27.6" height="28.5" fill="#fff"/>
<rect x="1305.05" y="306.05" width="34.6" height="35.7" fill="#f00"/><rect x="1308.55" y="309.95" width="27.6" height="28.5" fill="#fff"/>
<rect x="1309.80" y="306.05" width="34.6" height="35.7" fill="#f00"/><rect x="1313.30" y="309.95" width="27.6" height="28.5" fill="#fff"/>
<rect x="1314.55" y="306.05" width="34.6" height="35.7" fill="#f00"/><rect x="1318.05" y="309.95" width="27.6" height="28.5" fill="#fff"/>
<rect x="1319.31" y="306.95" width="34.6" height="35.7" fill="#f00"/><rect x="1322.81" y="310.85" width="27.6" height="28.5" fill="#fff"/>
<rect x="1324.06" y="307.95" width="34.6" height="35.7" fill="#f00"/><rect x="1327.56" y="311.85" width="27.6" height="28.5" fill="#fff"/>
<rect x="1328.81" y="308.15" width="34.6" height="35.7" fill="#f00"/><rect x="1332.31" y="312.05" width="27.6" height="28.5" fill="#fff"/>
<rect x="1331.19" y="308.20" width="34.6" height="35.7" fill="#f00"/><rect x="1334.69" y="312.10" width="27.6" height="28.5" fill="#fff"/>
<rect x="1333.56" y="308.25" width="34.6" height="35.7" fill="#f00"/><rect x="1337.06" y="312.15" width="27.6" height="28.5" fill="#fff"/>
<rect x="1338.32" y="308.25" width="34.6" height="35.7" fill="#f00"/><rect x="1341.82" y="312.15" width="27.6" height="28.5" fill="#fff"/>
<rect x="1343.07" y="306.95" width="34.6" height="35.7" fill="#f00"/><rect x="1346.57" y="310.85" width="27.6" height="28.5" fill="#fff"/>
<rect x="1347.82" y="304.15" width="34.6" height="35.7" fill="#f00"/><rect x="1351.32" y="308.05" width="27.6" height="28.5" fill="#fff"/>
<rect x="1352.58" y="300.95" width="34.6" height="35.7" fill="#f00"/><rect x="1356.08" y="304.85" width="27.6" height="28.5" fill="#fff"/>
<rect x="1357.33" y="298.05" width="34.6" height="35.7" fill="#f00"/><rect x="1360.83" y="301.95" width="27.6" height="28.5" fill="#fff"/>
<rect x="1362.08" y="294.85" width="34.6" height="35.7" fill="#f00"/><rect x="1365.58" y="298.75" width="27.6" height="28.5" fill="#fff"/>
<rect x="1366.84" y="292.95" width="34.6" height="35.7" fill="#f00"/><rect x="1370.34" y="296.85" width="27.6" height="28.5" fill="#fff"/>
<rect x="1371.59" y="292.95" width="34.6" height="35.7" fill="#f00"/><rect x="1375.09" y="296.85" width="27.6" height="28.5" fill="#fff"/>
<rect x="1376.34" y="293.95" width="34.6" height="35.7" fill="#f00"/><rect x="1379.84" y="297.85" width="27.6" height="28.5" fill="#fff"/>
<rect x="1381.09" y="294.85" width="34.6" height="35.7" fill="#f00"/><rect x="1384.59" y="298.75" width="27.6" height="28.5" fill="#fff"/>
<rect x="1385.85" y="295.85" width="34.6" height="35.7" fill="#f00"/><rect x="1389.35" y="299.75" width="27.6" height="28.5" fill="#fff"/>
<rect x="1390.60" y="294.85" width="34.6" height="35.7" fill="#f00"/><rect x="1394.10" y="298.75" width="27.6" height="28.5" fill="#fff"/>
<rect x="1395.35" y="293.95" width="34.6" height="35.7" fill="#f00"/><rect x="1398.85" y="297.85" width="27.6" height="28.5" fill="#fff"/>
<rect x="1400.11" y="292.95" width="34.6" height="35.7" fill="#f00"/><rect x="1403.61" y="296.85" width="27.6" height="28.5" fill="#fff"/>
<rect x="1404.86" y="292.95" width="34.6" height="35.7" fill="#f00"/><rect x="1408.36" y="296.85" width="27.6" height="28.5" fill="#fff"/>
<rect x="1409.61" y="293.95" width="34.6" height="35.7" fill="#f00"/><rect x="1413.11" y="297.85" width="27.6" height="28.5" fill="#fff"/>
<rect x="1414.37" y="294.85" width="34.6" height="35.7" fill="#f00"/><rect x="1417.87" y="298.75" width="27.6" height="28.5" fill="#fff"/>
<rect x="1419.12" y="296.85" width="34.6" height="35.7" fill="#f00"/><rect x="1422.62" y="300.75" width="27.6" height="28.5" fill="#fff"/>
<rect x="1423.87" y="297.15" width="34.6" height="35.7" fill="#f00"/><rect x="1427.37" y="301.05" width="27.6" height="28.5" fill="#fff"/>
<rect x="1428.62" y="297.75" width="34.6" height="35.7" fill="#f00"/><rect x="1432.12" y="301.65" width="27.6" height="28.5" fill="#fff"/>
<rect x="1433.38" y="297.15" width="34.6" height="35.7" fill="#f00"/><rect x="1436.88" y="301.05" width="27.6" height="28.5" fill="#fff"/>
<rect x="1438.13" y="296.85" width="34.6" height="35.7" fill="#f00"/><rect x="1441.63" y="300.75" width="27.6" height="28.5" fill="#fff"/>
<rect x="1442.88" y="297.15" width="34.6" height="35.7" fill="#f00"/><rect x="1446.38" y="301.05" width="27.6" height="28.5" fill="#fff"/>
<rect x="1447.64" y="296.85" width="34.6" height="35.7" fill="#f00"/><rect x="1451.14" y="300.75" width="27.6" height="28.5" fill="#fff"/>
<rect x="1452.39" y="297.15" width="34.6" height="35.7" fill="#f00"/><rect x="1455.89" y="301.05" width="27.6" height="28.5" fill="#fff"/>
<rect x="1457.14" y="297.75" width="34.6" height="35.7" fill="#f00"/><rect x="1460.64" y="301.65" width="27.6" height="28.5" fill="#fff"/>
<rect x="1461.89" y="298.05" width="34.6" height="35.7" fill="#f00"/><rect x="1465.39" y="301.95" width="27.6" height="28.5" fill="#fff"/>
<rect x="1466.65" y="299.05" width="34.6" height="35.7" fill="#f00"/><rect x="1470.15" y="302.95" width="27.6" height="28.5" fill="#fff"/>
<rect x="1471.40" y="300.05" width="34.6" height="35.7" fill="#f00"/><rect x="1474.90" y="303.95" width="27.6" height="28.5" fill="#fff"/>
<rect x="1476.15" y="300.05" width="34.6" height="35.7" fill="#f00"/><rect x="1479.65" y="303.95" width="27.6" height="28.5" fill="#fff"/>
<rect x="1480.91" y="299.55" width="34.6" height="35.7" fill="#f00"/><rect x="1484.41" y="303.45" width="27.6" height="28.5" fill="#fff"/>
<rect x="1483.28" y="299.30" width="34.6" height="35.7" fill="#f00"/><rect x="1486.78" y="303.20" width="27.6" height="28.5" fill="#fff"/>
<rect x="1485.66" y="299.05" width="34.6" height="35.7" fill="#f00"/><rect x="1489.16" y="302.95" width="27.6" height="28.5" fill="#fff"/>
<rect x="1490.41" y="298.05" width="34.6" height="35.7" fill="#f00"/><rect x="1493.91" y="301.95" width="27.6" height="28.5" fill="#fff"/>
<rect x="1495.17" y="297.75" width="34.6" height="35.7" fill="#f00"/><rect x="1498.67" y="301.65" width="27.6" height="28.5" fill="#fff"/>
<rect x="1499.92" y="298.05" width="34.6" height="35.7" fill="#f00"/><rect x="1503.42" y="301.95" width="27.6" height="28.5" fill="#fff"/>
<rect x="1504.67" y="297.15" width="34.6" height="35.7" fill="#f00"/><rect x="1508.17" y="301.05" width="27.6" height="28.5" fill="#fff"/>
<rect x="1509.42" y="297.15" width="34.6" height="35.7" fill="#f00"/><rect x="1512.92" y="301.05" width="27.6" height="28.5" fill="#fff"/>
<rect x="1514.18" y="296.85" width="34.6" height="35.7" fill="#f00"/><rect x="1517.68" y="300.75" width="27.6" height="28.5" fill="#fff"/>
<rect x="1518.93" y="296.95" width="34.6" height="35.7" fill="#f00"/><rect x="1522.43" y="300.85" width="27.6" height="28.5" fill="#fff"/>
<rect x="1523.68" y="297.05" width="34.6" height="35.7" fill="#f00"/><rect x="1527.18" y="300.95" width="27.6" height="28.5" fill="#fff"/>
<rect x="1528.44" y="297.95" width="34.6" height="35.7" fill="#f00"/><rect x="1531.94" y="301.85" width="27.6" height="28.5" fill="#fff"/>
<rect x="1533.19" y="298.95" width="34.6" height="35.7" fill="#f00"/><rect x="1536.69" y="302.85" width="27.6" height="28.5" fill="#fff"/>
<rect x="1537.94" y="299.85" width="34.6" height="35.7" fill="#f00"/><rect x="1541.44" y="303.75" width="27.6" height="28.5" fill="#fff"/>
<rect x="1542.70" y="299.85" width="34.6" height="35.7" fill="#f00"/><rect x="1546.20" y="303.75" width="27.6" height="28.5" fill="#fff"/>
<rect x="1547.45" y="299.85" width="34.6" height="35.7" fill="#f00"/><rect x="1550.95" y="303.75" width="27.6" height="28.5" fill="#fff"/>
<rect x="1552.20" y="299.85" width="34.6" height="35.7" fill="#f00"/><rect x="1555.70" y="303.75" width="27.6" height="28.5" fill="#fff"/>
<rect x="1556.95" y="299.85" width="34.6" height="35.7" fill="#f00"/><rect x="1560.45" y="303.75" width="27.6" height="28.5" fill="#fff"/>
<rect x="1561.71" y="299.85" width="34.6" height="35.7" fill="#f00"/><rect x="1565.21" y="303.75" width="27.6" height="28.5" fill="#fff"/>
<rect x="1566.46" y="297.95" width="34.6" height="35.7" fill="#f00"/><rect x="1569.96" y="301.85" width="27.6" height="28.5" fill="#fff"/>
<rect x="1571.21" y="296.95" width="34.6" height="35.7" fill="#f00"/><rect x="1574.71" y="300.85" width="27.6" height="28.5" fill="#fff"/>
<rect x="1575.97" y="294.75" width="34.6" height="35.7" fill="#f00"/><rect x="1579.47" y="298.65" width="27.6" height="28.5" fill="#fff"/>
<rect x="1580.72" y="292.85" width="34.6" height="35.7" fill="#f00"/><rect x="1584.22" y="296.75" width="27.6" height="28.5" fill="#fff"/>
<rect x="1585.47" y="291.85" width="34.6" height="35.7" fill="#f00"/><rect x="1588.97" y="295.75" width="27.6" height="28.5" fill="#fff"/>
<rect x="1590.23" y="290.95" width="34.6" height="35.7" fill="#f00"/><rect x="1593.73" y="294.85" width="27.6" height="28.5" fill="#fff"/>
<rect x="1594.98" y="290.95" width="34.6" height="35.7" fill="#f00"/><rect x="1598.48" y="294.85" width="27.6" height="28.5" fill="#fff"/>
<rect x="1599.73" y="290.95" width="34.6" height="35.7" fill="#f00"/><rect x="1603.23" y="294.85" width="27.6" height="28.5" fill="#fff"/>
<rect x="1604.49" y="290.95" width="34.6" height="35.7" fill="#f00"/><rect x="1607.99" y="294.85" width="27.6" height="28.5" fill="#fff"/>
<rect x="1609.24" y="290.95" width="34.6" height="35.7" fill="#f00"/><rect x="1612.74" y="294.85" width="27.6" height="28.5" fill="#fff"/>
<rect x="1613.99" y="290.95" width="34.6" height="35.7" fill="#f00"/><rect x="1617.49" y="294.85" width="27.6" height="28.5" fill="#fff"/>
<rect x="1618.74" y="290.95" width="34.6" height="35.7" fill="#f00"/><rect x="1622.24" y="294.85" width="27.6" height="28.5" fill="#fff"/>
<rect x="1623.50" y="290.95" width="34.6" height="35.7" fill="#f00"/><rect x="1627.00" y="294.85" width="27.6" height="28.5" fill="#fff"/>
<rect x="1628.25" y="291.85" width="34.6" height="35.7" fill="#f00"/><rect x="1631.75" y="295.75" width="27.6" height="28.5" fill="#fff"/>
<rect x="1633.00" y="291.85" width="34.6" height="35.7" fill="#f00"/><rect x="1636.50" y="295.75" width="27.6" height="28.5" fill="#fff"/>
<rect x="1637.76" y="292.85" width="34.6" height="35.7" fill="#f00"/><rect x="1641.26" y="296.75" width="27.6" height="28.5" fill="#fff"/>
<rect x="1642.51" y="292.85" width="34.6" height="35.7" fill="#f00"/><rect x="1646.01" y="296.75" width="27.6" height="28.5" fill="#fff"/>
<rect x="1647.26" y="292.85" width="34.6" height="35.7" fill="#f00"/><rect x="1650.76" y="296.75" width="27.6" height="28.5" fill="#fff"/>
<rect x="1652.02" y="292.85" width="34.6" height="35.7" fill="#f00"/><rect x="1655.52" y="296.75" width="27.6" height="28.5" fill="#fff"/>
<rect x="1656.77" y="291.85" width="34.6" height="35.7" fill="#f00"/><rect x="1660.27" y="295.75" width="27.6" height="28.5" fill="#fff"/>
<rect x="1661.52" y="290.95" width="34.6" height="35.7" fill="#f00"/><rect x="1665.02" y="294.85" width="27.6" height="28.5" fill="#fff"/>
<rect x="1666.27" y="290.95" width="34.6" height="35.7" fill="#f00"/><rect x="1669.77" y="294.85" width="27.6" height="28.5" fill="#fff"/>
<rect x="1671.03" y="292.85" width="34.6" height="35.7" fill="#f00"/><rect x="1674.53" y="296.75" width="27.6" height="28.5" fill="#fff"/>
<rect x="1675.78" y="293.85" width="34.6" height="35.7" fill="#f00"/><rect x="1679.28" y="297.75" width="27.6" height="28.5" fill="#fff"/>
<rect x="1680.53" y="298.85" width="34.6" height="35.7" fill="#f00"/><rect x="1684.03" y="302.75" width="27.6" height="28.5" fill="#fff"/>
<rect x="1685.29" y="302.05" width="34.6" height="35.7" fill="#f00"/><rect x="1688.79" y="305.95" width="27.6" height="28.5" fill="#fff"/>
<rect x="1690.04" y="305.85" width="34.6" height="35.7" fill="#f00"/><rect x="1693.54" y="309.75" width="27.6" height="28.5" fill="#fff"/>
<rect x="1694.79" y="307.95" width="34.6" height="35.7" fill="#f00"/><rect x="1698.29" y="311.85" width="27.6" height="28.5" fill="#fff"/>
<rect x="1699.55" y="310.75" width="34.6" height="35.7" fill="#f00"/><rect x="1703.05" y="314.65" width="27.6" height="28.5" fill="#fff"/>
<rect x="1704.30" y="309.85" width="34.6" height="35.7" fill="#f00"/><rect x="1707.80" y="313.75" width="27.6" height="28.5" fill="#fff"/>
<rect x="1709.05" y="306.85" width="34.6" height="35.7" fill="#f00"/><rect x="1712.55" y="310.75" width="27.6" height="28.5" fill="#fff"/>
<rect x="1713.80" y="303.95" width="34.6" height="35.7" fill="#f00"/><rect x="1717.30" y="307.85" width="27.6" height="28.5" fill="#fff"/>
<rect x="1718.56" y="299.85" width="34.6" height="35.7" fill="#f00"/><rect x="1722.06" y="303.75" width="27.6" height="28.5" fill="#fff"/>
<rect x="1723.31" y="294.75" width="34.6" height="35.7" fill="#f00"/><rect x="1726.81" y="298.65" width="27.6" height="28.5" fill="#fff"/>
<rect x="1728.06" y="293.85" width="34.6" height="35.7" fill="#f00"/><rect x="1731.56" y="297.75" width="27.6" height="28.5" fill="#fff"/>
<rect x="1732.82" y="293.85" width="34.6" height="35.7" fill="#f00"/><rect x="1736.32" y="297.75" width="27.6" height="28.5" fill="#fff"/>
<rect x="1737.57" y="294.75" width="34.6" height="35.7" fill="#f00"/><rect x="1741.07" y="298.65" width="27.6" height="28.5" fill="#fff"/>
<rect x="1742.32" y="296.95" width="34.6" height="35.7" fill="#f00"/><rect x="1745.82" y="300.85" width="27.6" height="28.5" fill="#fff"/>
<rect x="1747.08" y="297.95" width="34.6" height="35.7" fill="#f00"/><rect x="1750.58" y="301.85" width="27.6" height="28.5" fill="#fff"/>
<rect x="1751.83" y="297.95" width="34.6" height="35.7" fill="#f00"/><rect x="1755.33" y="301.85" width="27.6" height="28.5" fill="#fff"/>
<rect x="1754.20" y="297.95" width="34.6" height="35.7" fill="#f00"/><rect x="1757.70" y="301.85" width="27.6" height="28.5" fill="#fff"/>
<rect x="1756.58" y="297.95" width="34.6" height="35.7" fill="#f00"/><rect x="1760.08" y="301.85" width="27.6" height="28.5" fill="#fff"/>
<rect x="1761.33" y="297.95" width="34.6" height="35.7" fill="#f00"/><rect x="1764.83" y="301.85" width="27.6" height="28.5" fill="#fff"/>
<rect x="1766.09" y="296.95" width="34.6" height="35.7" fill="#f00"/><rect x="1769.59" y="300.85" width="27.6" height="28.5" fill="#fff"/>
<rect x="1770.84" y="294.75" width="34.6" height="35.7" fill="#f00"/><rect x="1774.34" y="298.65" width="27.6" height="28.5" fill="#fff"/>
<rect x="1775.59" y="294.75" width="34.6" height="35.7" fill="#f00"/><rect x="1779.09" y="298.65" width="27.6" height="28.5" fill="#fff"/>
<rect x="1780.35" y="292.85" width="34.6" height="35.7" fill="#f00"/><rect x="1783.85" y="296.75" width="27.6" height="28.5" fill="#fff"/>
<rect x="1785.10" y="292.85" width="34.6" height="35.7" fill="#f00"/><rect x="1788.60" y="296.75" width="27.6" height="28.5" fill="#fff"/>
<rect x="1789.85" y="292.85" width="34.6" height="35.7" fill="#f00"/><rect x="1793.35" y="296.75" width="27.6" height="28.5" fill="#fff"/>
<rect x="1794.61" y="292.85" width="34.6" height="35.7" fill="#f00"/><rect x="1798.11" y="296.75" width="27.6" height="28.5" fill="#fff"/>
<rect x="1799.36" y="292.85" width="34.6" height="35.7" fill="#f00"/><rect x="1802.86" y="296.75" width="27.6" height="28.5" fill="#fff"/>
<rect x="1804.11" y="292.45" width="34.6" height="35.7" fill="#f00"/><rect x="1807.61" y="296.35" width="27.6" height="28.5" fill="#fff"/>
<rect x="1808.86" y="291.95" width="34.6" height="35.7" fill="#f00"/><rect x="1812.36" y="295.85" width="27.6" height="28.5" fill="#fff"/>
<rect x="1813.62" y="291.95" width="34.6" height="35.7" fill="#f00"/><rect x="1817.12" y="295.85" width="27.6" height="28.5" fill="#fff"/>
<rect x="1818.37" y="290.85" width="34.6" height="35.7" fill="#f00"/><rect x="1821.87" y="294.75" width="27.6" height="28.5" fill="#fff"/>
<rect x="1823.12" y="288.85" width="34.6" height="35.7" fill="#f00"/><rect x="1826.62" y="292.75" width="27.6" height="28.5" fill="#fff"/>
<rect x="1827.88" y="287.95" width="34.6" height="35.7" fill="#f00"/><rect x="1831.38" y="291.85" width="27.6" height="28.5" fill="#fff"/>
<rect x="1832.63" y="285.75" width="34.6" height="35.7" fill="#f00"/><rect x="1836.13" y="289.65" width="27.6" height="28.5" fill="#fff"/>
<rect x="1837.38" y="282.85" width="34.6" height="35.7" fill="#f00"/><rect x="1840.88" y="286.75" width="27.6" height="28.5" fill="#fff"/>
<rect x="1842.13" y="281.95" width="34.6" height="35.7" fill="#f00"/><rect x="1845.63" y="285.85" width="27.6" height="28.5" fill="#fff"/>
<rect x="1846.89" y="281.95" width="34.6" height="35.7" fill="#f00"/><rect x="1850.39" y="285.85" width="27.6" height="28.5" fill="#fff"/>
<rect x="1851.64" y="280.95" width="34.6" height="35.7" fill="#f00"/><rect x="1855.14" y="284.85" width="27.6" height="28.5" fill="#fff"/>
<rect x="1856.39" y="281.95" width="34.6" height="35.7" fill="#f00"/><rect x="1859.89" y="285.85" width="27.6" height="28.5" fill="#fff"/>
<rect x="1861.15" y="282.85" width="34.6" height="35.7" fill="#f00"/><rect x="1864.65" y="286.75" width="27.6" height="28.5" fill="#fff"/>
<rect x="1865.90" y="281.95" width="34.6" height="35.7" fill="#f00"/><rect x="1869.40" y="285.85" width="27.6" height="28.5" fill="#fff"/>
<rect x="1870.65" y="280.95" width="34.6" height="35.7" fill="#f00"/><rect x="1874.15" y="284.85" width="27.6" height="28.5" fill="#fff"/>
<rect x="1875.41" y="280.95" width="34.6" height="35.7" fill="#f00"/><rect x="1878.91" y="284.85" width="27.6" height="28.5" fill="#fff"/>
<rect x="1880.16" y="280.95" width="34.6" height="35.7" fill="#f00"/><rect x="1883.66" y="284.85" width="27.6" height="28.5" fill="#fff"/>
<rect x="1884.91" y="281.95" width="34.6" height="35.7" fill="#f00"/><rect x="1888.41" y="285.85" width="27.6" height="28.5" fill="#fff"/>
<rect x="1889.66" y="283.15" width="34.6" height="35.7" fill="#f00"/><rect x="1893.16" y="287.05" width="27.6" height="28.5" fill="#fff"/>
<rect x="1892.04" y="283.65" width="34.6" height="35.7" fill="#f00"/><rect x="1895.54" y="287.55" width="27.6" height="28.5" fill="#fff"/>
<rect x="1894.42" y="284.15" width="34.6" height="35.7" fill="#f00"/><rect x="1897.92" y="288.05" width="27.6" height="28.5" fill="#fff"/>
<rect x="1899.17" y="285.05" width="34.6" height="35.7" fill="#f00"/><rect x="1902.67" y="288.95" width="27.6" height="28.5" fill="#fff"/>
<rect x="1903.92" y="283.95" width="34.6" height="35.7" fill="#f00"/><rect x="1907.42" y="287.85" width="27.6" height="28.5" fill="#fff"/>
<rect x="1906.30" y="283.40" width="34.6" height="35.7" fill="#f00"/><rect x="1909.80" y="287.30" width="27.6" height="28.5" fill="#fff"/>
<rect x="1908.68" y="282.85" width="34.6" height="35.7" fill="#f00"/><rect x="1912.18" y="286.75" width="27.6" height="28.5" fill="#fff"/>
<rect x="1913.43" y="282.85" width="34.6" height="35.7" fill="#f00"/><rect x="1916.93" y="286.75" width="27.6" height="28.5" fill="#fff"/>
<rect x="1918.18" y="282.85" width="34.6" height="35.7" fill="#f00"/><rect x="1921.68" y="286.75" width="27.6" height="28.5" fill="#fff"/>
<rect x="1922.94" y="282.85" width="34.6" height="35.7" fill="#f00"/><rect x="1926.44" y="286.75" width="27.6" height="28.5" fill="#fff"/>
<rect x="1927.69" y="283.85" width="34.6" height="35.7" fill="#f00"/><rect x="1931.19" y="287.75" width="27.6" height="28.5" fill="#fff"/>
<rect x="1932.44" y="284.75" width="34.6" height="35.7" fill="#f00"/><rect x="1935.94" y="288.65" width="27.6" height="28.5" fill="#fff"/>
<rect x="1937.19" y="284.75" width="34.6" height="35.7" fill="#f00"/><rect x="1940.69" y="288.65" width="27.6" height="28.5" fill="#fff"/>
<rect x="1941.95" y="285.75" width="34.6" height="35.7" fill="#f00"/><rect x="1945.45" y="289.65" width="27.6" height="28.5" fill="#fff"/>
<rect x="1946.70" y="286.95" width="34.6" height="35.7" fill="#f00"/><rect x="1950.20" y="290.85" width="27.6" height="28.5" fill="#fff"/>
<rect x="1951.45" y="284.75" width="34.6" height="35.7" fill="#f00"/><rect x="1954.95" y="288.65" width="27.6" height="28.5" fill="#fff"/>
<rect x="1956.21" y="282.85" width="34.6" height="35.7" fill="#f00"/><rect x="1959.71" y="286.75" width="27.6" height="28.5" fill="#fff"/>
<rect x="1960.96" y="280.95" width="34.6" height="35.7" fill="#f00"/><rect x="1964.46" y="284.85" width="27.6" height="28.5" fill="#fff"/>
<rect x="1965.71" y="278.75" width="34.6" height="35.7" fill="#f00"/><rect x="1969.21" y="282.65" width="27.6" height="28.5" fill="#fff"/>
<rect x="1970.47" y="276.85" width="34.6" height="35.7" fill="#f00"/><rect x="1973.97" y="280.75" width="27.6" height="28.5" fill="#fff"/>
<rect x="1975.22" y="275.85" width="34.6" height="35.7" fill="#f00"/><rect x="1978.72" y="279.75" width="27.6" height="28.5" fill="#fff"/>
<rect x="1979.97" y="274.85" width="34.6" height="35.7" fill="#f00"/><rect x="1983.47" y="278.75" width="27.6" height="28.5" fill="#fff"/>
<rect x="1984.73" y="273.95" width="34.6" height="35.7" fill="#f00"/><rect x="1988.23" y="277.85" width="27.6" height="28.5" fill="#fff"/>
<rect x="1989.48" y="272.05" width="34.6" height="35.7" fill="#f00"/><rect x="1992.98" y="275.95" width="27.6" height="28.5" fill="#fff"/>
<rect x="1994.23" y="271.75" width="34.6" height="35.7" fill="#f00"/><rect x="1997.73" y="275.65" width="27.6" height="28.5" fill="#fff"/>
<rect x="1998.98" y="272.95" width="34.6" height="35.7" fill="#f00"/><rect x="2002.48" y="276.85" width="27.6" height="28.5" fill="#fff"/>
<rect x="2003.74" y="273.95" width="34.6" height="35.7" fill="#f00"/><rect x="2007.24" y="277.85" width="27.6" height="28.5" fill="#fff"/>
<rect x="2008.49" y="275.85" width="34.6" height="35.7" fill="#f00"/><rect x="2011.99" y="279.75" width="27.6" height="28.5" fill="#fff"/>
<rect x="2013.24" y="276.85" width="34.6" height="35.7" fill="#f00"/><rect x="2016.74" y="280.75" width="27.6" height="28.5" fill="#fff"/>
<rect x="2018.00" y="278.05" width="34.6" height="35.7" fill="#f00"/><rect x="2021.50" y="281.95" width="27.6" height="28.5" fill="#fff"/>
<rect x="2022.75" y="280.05" width="34.6" height="35.7" fill="#f00"/><rect x="2026.25" y="283.95" width="27.6" height="28.5" fill="#fff"/>
<rect x="2027.50" y="281.95" width="34.6" height="35.7" fill="#f00"/><rect x="2031.00" y="285.85" width="27.6" height="28.5" fill="#fff"/>
<rect x="2032.26" y="283.85" width="34.6" height="35.7" fill="#f00"/><rect x="2035.76" y="287.75" width="27.6" height="28.5" fill="#fff"/>
<rect x="2037.01" y="286.95" width="34.6" height="35.7" fill="#f00"/><rect x="2040.51" y="290.85" width="27.6" height="28.5" fill="#fff"/>
<rect x="2041.76" y="288.85" width="34.6" height="35.7" fill="#f00"/><rect x="2045.26" y="292.75" width="27.6" height="28.5" fill="#fff"/>
<rect x="2046.51" y="286.95" width="34.6" height="35.7" fill="#f00"/><rect x="2050.01" y="290.85" width="27.6" height="28.5" fill="#fff"/>
<rect x="2051.27" y="284.75" width="34.6" height="35.7" fill="#f00"/><rect x="2054.77" y="288.65" width="27.6" height="28.5" fill="#fff"/>
<rect x="2056.02" y="283.85" width="34.6" height="35.7" fill="#f00"/><rect x="2059.52" y="287.75" width="27.6" height="28.5" fill="#fff"/>
<rect x="2060.77" y="281.95" width="34.6" height="35.7" fill="#f00"/><rect x="2064.27" y="285.85" width="27.6" height="28.5" fill="#fff"/>
<rect x="2065.53" y="280.95" width="34.6" height="35.7" fill="#f00"/><rect x="2069.03" y="284.85" width="27.6" height="28.5" fill="#fff"/>
<rect x="2070.28" y="280.05" width="34.6" height="35.7" fill="#f00"/><rect x="2073.78" y="283.95" width="27.6" height="28.5" fill="#fff"/>
<rect x="2075.03" y="278.05" width="34.6" height="35.7" fill="#f00"/><rect x="2078.53" y="281.95" width="27.6" height="28.5" fill="#fff"/>
<rect x="2079.78" y="276.85" width="34.6" height="35.7" fill="#f00"/><rect x="2083.28" y="280.75" width="27.6" height="28.5" fill="#fff"/>
<rect x="2084.54" y="275.85" width="34.6" height="35.7" fill="#f00"/><rect x="2088.04" y="279.75" width="27.6" height="28.5" fill="#fff"/>
<rect x="2089.29" y="274.85" width="34.6" height="35.7" fill="#f00"/><rect x="2092.79" y="278.75" width="27.6" height="28.5" fill="#fff"/>
<rect x="2094.04" y="274.85" width="34.6" height="35.7" fill="#f00"/><rect x="2097.54" y="278.75" width="27.6" height="28.5" fill="#fff"/>
<rect x="2098.80" y="275.85" width="34.6" height="35.7" fill="#f00"/><rect x="2102.30" y="279.75" width="27.6" height="28.5" fill="#fff"/>
<rect x="2103.55" y="275.85" width="34.6" height="35.7" fill="#f00"/><rect x="2107.05" y="279.75" width="27.6" height="28.5" fill="#fff"/>
<rect x="2108.30" y="278.05" width="34.6" height="35.7" fill="#f00"/><rect x="2111.80" y="281.95" width="27.6" height="28.5" fill="#fff"/>
<rect x="2113.06" y="278.05" width="34.6" height="35.7" fill="#f00"/><rect x="2116.56" y="281.95" width="27.6" height="28.5" fill="#fff"/>
<rect x="2117.81" y="278.05" width="34.6" height="35.7" fill="#f00"/><rect x="2121.31" y="281.95" width="27.6" height="28.5" fill="#fff"/>
<rect x="2122.56" y="280.05" width="34.6" height="35.7" fill="#f00"/><rect x="2126.06" y="283.95" width="27.6" height="28.5" fill="#fff"/>
<rect x="2127.32" y="281.95" width="34.6" height="35.7" fill="#f00"/><rect x="2130.82" y="285.85" width="27.6" height="28.5" fill="#fff"/>
<rect x="2132.07" y="283.85" width="34.6" height="35.7" fill="#f00"/><rect x="2135.57" y="287.75" width="27.6" height="28.5" fill="#fff"/>
<rect x="2136.82" y="285.75" width="34.6" height="35.7" fill="#f00"/><rect x="2140.32" y="289.65" width="27.6" height="28.5" fill="#fff"/>
<rect x="2141.57" y="289.85" width="34.6" height="35.7" fill="#f00"/><rect x="2145.07" y="293.75" width="27.6" height="28.5" fill="#fff"/>
<rect x="2146.33" y="290.85" width="34.6" height="35.7" fill="#f00"/><rect x="2149.83" y="294.75" width="27.6" height="28.5" fill="#fff"/>
<rect x="2151.08" y="292.05" width="34.6" height="35.7" fill="#f00"/><rect x="2154.58" y="295.95" width="27.6" height="28.5" fill="#fff"/>
<rect x="2155.83" y="292.85" width="34.6" height="35.7" fill="#f00"/><rect x="2159.33" y="296.75" width="27.6" height="28.5" fill="#fff"/>
<rect x="2160.59" y="293.95" width="34.6" height="35.7" fill="#f00"/><rect x="2164.09" y="297.85" width="27.6" height="28.5" fill="#fff"/>
<rect x="2162.96" y="294.45" width="34.6" height="35.7" fill="#f00"/><rect x="2166.46" y="298.35" width="27.6" height="28.5" fill="#fff"/>
<rect x="2165.34" y="294.95" width="34.6" height="35.7" fill="#f00"/><rect x="2168.84" y="298.85" width="27.6" height="28.5" fill="#fff"/>
<rect x="2170.09" y="296.85" width="34.6" height="35.7" fill="#f00"/><rect x="2173.59" y="300.75" width="27.6" height="28.5" fill="#fff"/>
<rect x="2174.84" y="297.95" width="34.6" height="35.7" fill="#f00"/><rect x="2178.34" y="301.85" width="27.6" height="28.5" fill="#fff"/>
<rect x="2179.60" y="299.85" width="34.6" height="35.7" fill="#f00"/><rect x="2183.10" y="303.75" width="27.6" height="28.5" fill="#fff"/>
<rect x="2184.35" y="299.85" width="34.6" height="35.7" fill="#f00"/><rect x="2187.85" y="303.75" width="27.6" height="28.5" fill="#fff"/>
<rect x="2189.10" y="299.85" width="34.6" height="35.7" fill="#f00"/><rect x="2192.60" y="303.75" width="27.6" height="28.5" fill="#fff"/>
<rect x="2193.86" y="297.95" width="34.6" height="35.7" fill="#f00"/><rect x="2197.36" y="301.85" width="27.6" height="28.5" fill="#fff"/>
<rect x="2198.61" y="295.85" width="34.6" height="35.7" fill="#f00"/><rect x="2202.11" y="299.75" width="27.6" height="28.5" fill="#fff"/>
<rect x="2203.36" y="292.85" width="34.6" height="35.7" fill="#f00"/><rect x="2206.86" y="296.75" width="27.6" height="28.5" fill="#fff"/>
<rect x="2208.12" y="289.85" width="34.6" height="35.7" fill="#f00"/><rect x="2211.62" y="293.75" width="27.6" height="28.5" fill="#fff"/>
<rect x="2212.87" y="286.95" width="34.6" height="35.7" fill="#f00"/><rect x="2216.37" y="290.85" width="27.6" height="28.5" fill="#fff"/>
<rect x="2217.62" y="284.75" width="34.6" height="35.7" fill="#f00"/><rect x="2221.12" y="288.65" width="27.6" height="28.5" fill="#fff"/>
<rect x="2222.38" y="282.85" width="34.6" height="35.7" fill="#f00"/><rect x="2225.88" y="286.75" width="27.6" height="28.5" fill="#fff"/>
<rect x="2227.13" y="280.95" width="34.6" height="35.7" fill="#f00"/><rect x="2230.63" y="284.85" width="27.6" height="28.5" fill="#fff"/>
<rect x="2231.88" y="280.95" width="34.6" height="35.7" fill="#f00"/><rect x="2235.38" y="284.85" width="27.6" height="28.5" fill="#fff"/>
<rect x="2236.63" y="280.95" width="34.6" height="35.7" fill="#f00"/><rect x="2240.13" y="284.85" width="27.6" height="28.5" fill="#fff"/>
<rect x="2241.39" y="280.95" width="34.6" height="35.7" fill="#f00"/><rect x="2244.89" y="284.85" width="27.6" height="28.5" fill="#fff"/>
<rect x="2246.14" y="280.95" width="34.6" height="35.7" fill="#f00"/><rect x="2249.64" y="284.85" width="27.6" height="28.5" fill="#fff"/>
</g>
<g fill="#000">
<circle cx="483.1" cy="967.2" r="3.8"/>
<circle cx="507.1" cy="945.1" r="3.8"/>
<circle cx="531.2" cy="923.0" r="3.8"/>
<circle cx="555.2" cy="901.0" r="3.8"/>
<circle cx="579.3" cy="878.9" r="3.8"/>
<circle cx="603.3" cy="856.8" r="3.8"/>
<circle cx="627.3" cy="834.7" r="3.8"/>
<circle cx="651.4" cy="812.7" r="3.8"/>
<circle cx="675.4" cy="790.6" r="3.8"/>
<circle cx="699.5" cy="768.5" r="3.8"/>
<circle cx="723.5" cy="746.4" r="3.8"/>
<circle cx="747.5" cy="724.4" r="3.8"/>
<circle cx="771.6" cy="702.3" r="3.8"/>
<circle cx="795.6" cy="680.2" r="3.8"/>
<circle cx="819.7" cy="658.1" r="3.8"/>
<circle cx="843.7" cy="636.1" r="3.8"/>
<circle cx="867.7" cy="614.0" r="3.8"/>
<circle cx="891.8" cy="591.9" r="3.8"/>
<circle cx="915.8" cy="569.8" r="3.8"/>
<circle cx="939.9" cy="547.8" r="3.8"/>
<circle cx="963.9" cy="525.7" r="3.8"/>
<circle cx="987.9" cy="503.6" r="3.8"/>
<circle cx="1012.0" cy="481.5" r="3.8"/>
<circle cx="1036.0" cy="459.5" r="3.8"/>
<circle cx="1060.1" cy="437.4" r="3.8"/>
<circle cx="1084.1" cy="415.3" r="3.8"/>
<circle cx="1108.1" cy="393.2" r="3.8"/>
<circle cx="1138.1" cy="374.1" r="3.8"/>
<circle cx="1168.2" cy="362.8" r="3.8"/>
<circle cx="1198.3" cy="351.5" r="3.8"/>
<circle cx="1228.3" cy="340.3" r="3.8"/>
<circle cx="1258.4" cy="329.0" r="3.8"/>
<circle cx="1288.5" cy="317.7" r="3.8"/>
<circle cx="1318.6" cy="306.4" r="3.8"/>
<circle cx="1348.7" cy="295.1" r="3.8"/>
<circle cx="1378.7" cy="283.9" r="3.8"/>
<circle cx="1408.8" cy="272.6" r="3.8"/>
<circle cx="1440.9" cy="263.7" r="3.8"/>
<circle cx="1472.5" cy="259.8" r="3.8"/>
<circle cx="1504.0" cy="255.9" r="3.8"/>
<circle cx="1535.6" cy="252.0" r="3.8"/>
<circle cx="1567.1" cy="248.2" r="3.8"/>
<circle cx="1598.7" cy="244.3" r="3.8"/>
<circle cx="1630.2" cy="240.4" r="3.8"/>
<circle cx="1661.8" cy="236.5" r="3.8"/>
<circle cx="1693.3" cy="232.6" r="3.8"/>
<circle cx="1724.9" cy="228.7" r="3.8"/>
<circle cx="1756.4" cy="224.8" r="3.8"/>
<circle cx="1788.0" cy="221.0" r="3.8"/>
<circle cx="1819.5" cy="217.1" r="3.8"/>
<circle cx="1851.1" cy="213.2" r="3.8"/>
<circle cx="1882.6" cy="209.3" r="3.8"/>
<circle cx="1914.2" cy="205.4" r="3.8"/>
<circle cx="1945.7" cy="201.5" r="3.8"/>
<circle cx="1977.2" cy="197.7" r="3.8"/>
<circle cx="2008.8" cy="193.8" r="3.8"/>
<circle cx="2040.4" cy="189.9" r="3.8"/>
<circle cx="2071.9" cy="186.0" r="3.8"/>
<circle cx="2103.5" cy="182.1" r="3.8"/>
<circle cx="2135.0" cy="178.2" r="3.8"/>
<circle cx="2166.6" cy="174.3" r="3.8"/>
<circle cx="2198.1" cy="170.5" r="3.8"/>
<circle cx="2229.7" cy="166.6" r="3.8"/>
</g>
</g>
<g filter="url(#bw)">
<text font-weight="bold"><tspan x="226.90" y="103.75" font-size="89.08" textLength="147.34" lengthAdjust="spacingAndGlyphs">0.50</tspan></text>
<text font-weight="bold"><tspan x="227.01" y="558.14" font-size="89.90" textLength="146.75" lengthAdjust="spacingAndGlyphs">0.25</tspan></text>
<text font-weight="bold"><tspan x="226.90" y="1011.75" font-size="89.08" textLength="147.34" lengthAdjust="spacingAndGlyphs">0.00</tspan></text>
<text font-weight="bold"><tspan x="433.29" y="1133.41" font-size="88.74" textLength="44.93" lengthAdjust="spacingAndGlyphs">0</tspan></text>
<text font-weight="bold"><tspan x="695.31" y="1133.41" font-size="88.74" textLength="121.67" lengthAdjust="spacingAndGlyphs">100</tspan></text>
<text font-weight="bold"><tspan x="994.56" y="1133.41" font-size="88.74" textLength="126.44" lengthAdjust="spacingAndGlyphs">200</tspan></text>
<text font-weight="bold"><tspan x="1293.85" y="1133.41" font-size="88.74" textLength="128.20" lengthAdjust="spacingAndGlyphs">300</tspan></text>
<text font-weight="bold"><tspan x="1598.45" y="1133.41" font-size="88.74" textLength="123.17" lengthAdjust="spacingAndGlyphs">400</tspan></text>
<text font-weight="bold"><tspan x="1898.39" y="1133.41" font-size="88.74" textLength="124.05" lengthAdjust="spacingAndGlyphs">500</tspan></text>
<text font-weight="bold"><tspan x="2199.18" y="1133.41" font-size="88.74" textLength="124.58" lengthAdjust="spacingAndGlyphs">600</tspan></text>
<text font-weight="normal" stroke="#000" stroke-linejoin="round"><tspan x="1290.89" y="1282.48" font-size="101.70" textLength="29.23" lengthAdjust="spacingAndGlyphs" stroke-width="3.00">t</tspan><tspan x="1328.96" y="1295.88" font-size="141.55" textLength="47.15" lengthAdjust="spacingAndGlyphs" stroke-width="1.60">/</tspan><tspan x="1386.22" y="1281.37" font-size="96.53" textLength="42.05" lengthAdjust="spacingAndGlyphs" stroke-width="3.40">s</tspan></text>
<text font-weight="normal" stroke="#000" stroke-linejoin="round" transform="rotate(-90)"><tspan x="-918.19" y="135.30" font-size="108.24" textLength="67.55" lengthAdjust="spacingAndGlyphs" stroke-width="2.40">Γ</tspan><tspan x="-850.19" y="179.42" font-size="58.42" textLength="24.47" lengthAdjust="spacingAndGlyphs" stroke-width="2.40">s</tspan><tspan x="-821.02" y="178.90" font-size="60.95" textLength="16.03" lengthAdjust="spacingAndGlyphs" stroke-width="2.40">l</tspan><tspan x="-797.16" y="149.69" font-size="141.11" textLength="46.19" lengthAdjust="spacingAndGlyphs" stroke-width="1.60">/</tspan><tspan font-size="60"> </tspan><tspan x="-720.84" y="135.35" font-size="114.30" textLength="73.17" lengthAdjust="spacingAndGlyphs" stroke-width="2.40">μ</tspan><tspan x="-651.52" y="140.94" font-size="101.22" textLength="64.24" lengthAdjust="spacingAndGlyphs" stroke-width="2.40">g</tspan><tspan x="-587.25" y="133.61" font-size="47.46" textLength="15.69" lengthAdjust="spacingAndGlyphs" stroke-width="1.00">·</tspan><tspan x="-567.95" y="135.28" font-size="95.14" textLength="49.32" lengthAdjust="spacingAndGlyphs" stroke-width="3.60">c</tspan><tspan x="-514.73" y="137.00" font-size="104.19" textLength="96.24" lengthAdjust="spacingAndGlyphs" stroke-width="0.80">m</tspan><tspan x="-419.05" y="77.97" font-size="82.67" textLength="22.23" lengthAdjust="spacingAndGlyphs" stroke-width="0.80">-</tspan><tspan x="-396.72" y="71.90" font-size="63.14" textLength="34.40" lengthAdjust="spacingAndGlyphs" stroke-width="2.40">2</tspan></text>
</g>
</svg></body></html>
